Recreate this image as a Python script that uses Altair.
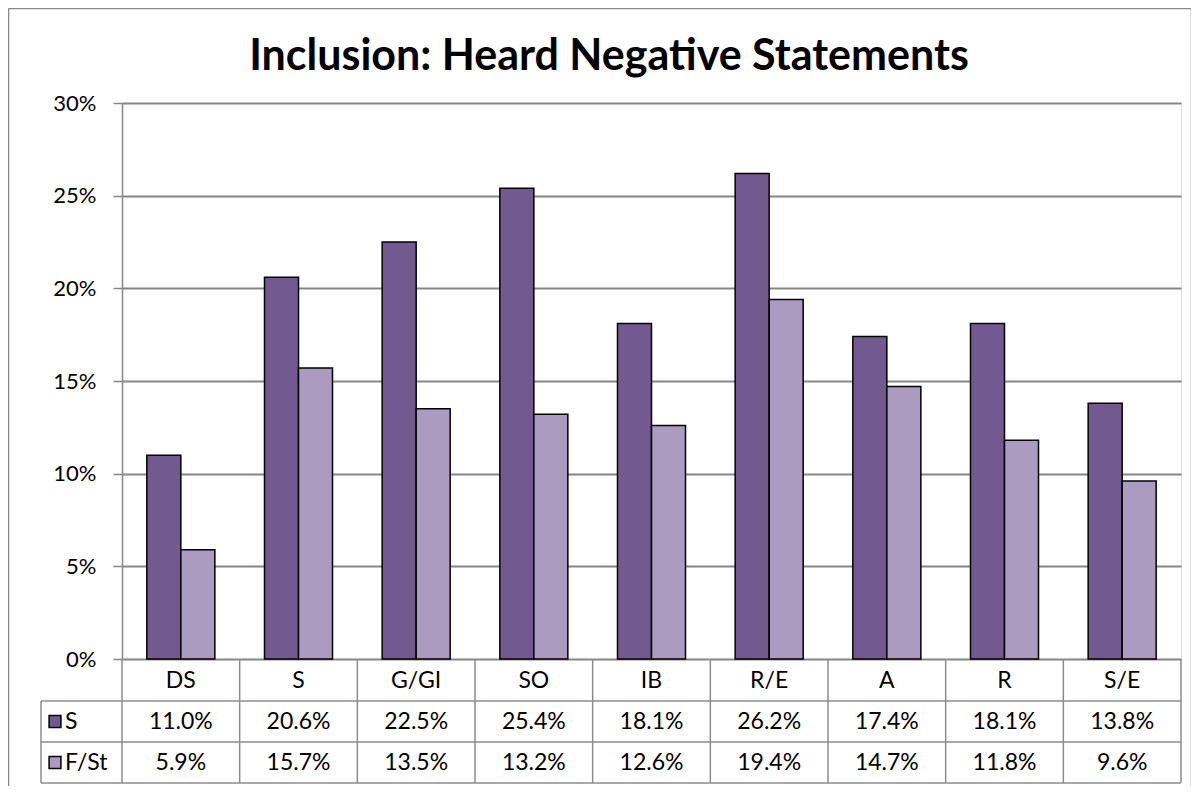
import altair as alt
import pandas as pd

categories = ["DS", "S", "G/GI", "SO", "IB", "R/E", "A", "R", "S/E"]
series_names = ["S", "F/St"]
s_values = [11.0, 20.6, 22.5, 25.4, 18.1, 26.2, 17.4, 18.1, 13.8]
fst_values = [5.9, 15.7, 13.5, 13.2, 12.6, 19.4, 14.7, 11.8, 9.6]
colors = ["#725a90", "#ab9bc1"]
title_text = "Inclusion: Heard Negative Statements"
y_ticks = [0, 0.05, 0.10, 0.15, 0.20, 0.25, 0.30]

FONT = "Lato"
W, H = 1059, 556
GRID = "#868686"
TBL = "#8c8c8c"
TS = 23

rows = []
for i, c in enumerate(categories):
    rows.append({"cat": c, "series": "S", "value": s_values[i] / 100, "label": f"{s_values[i]:.1f}%"})
    rows.append({"cat": c, "series": "F/St", "value": fst_values[i] / 100, "label": f"{fst_values[i]:.1f}%"})
df = pd.DataFrame(rows)
cat_df = pd.DataFrame({"cat": categories})
one = alt.Data(values=[{"k": 0}])

x_scale = alt.Scale(domain=categories, paddingInner=0, paddingOuter=0)
color_scale = alt.Scale(domain=series_names, range=colors)

bars = alt.Chart(df).mark_bar(stroke="black", strokeWidth=1.5).encode(
    x=alt.X("cat:N", scale=x_scale, axis=None),
    xOffset=alt.XOffset("series:N", scale=alt.Scale(domain=series_names, paddingInner=0, paddingOuter=0.73)),
    y=alt.Y("value:Q", scale=alt.Scale(domain=[0, 0.3], nice=False),
            axis=alt.Axis(values=y_ticks, format=".0%", title=None, labelFont=FONT,
                          labelFontSize=22, labelColor="black", labelPadding=17,
                          tickSize=9, tickColor=GRID, tickWidth=1.5,
                          domainColor=GRID, domainWidth=1.5,
                          grid=True, gridColor=GRID, gridWidth=2)),
    color=alt.Color("series:N", scale=color_scale, legend=None),
)

# Data table: header row of categories
header = alt.Chart(cat_df).mark_text(font=FONT, fontSize=TS, color="black", baseline="middle").encode(
    x=alt.X("cat:N", scale=x_scale, axis=None),
    y=alt.value(577.5),
    text="cat:N",
)

row_y = {"S": 618.5, "F/St": 659.5}
value_rows = []
swatches = []
for s in series_names:
    value_rows.append(
        alt.Chart(df).transform_filter(alt.datum.series == s)
        .mark_text(font=FONT, fontSize=TS, color="black", baseline="middle")
        .encode(x=alt.X("cat:N", scale=x_scale, axis=None), y=alt.value(row_y[s]), text="label:N")
    )
    sdf = pd.DataFrame({"series": [s]})
    swatches.append(
        alt.Chart(sdf).mark_square(size=140, stroke="black", strokeWidth=1.5, opacity=1)
        .encode(x=alt.value(-67), y=alt.value(row_y[s]),
                color=alt.Color("series:N", scale=color_scale, legend=None))
    )
    swatches.append(
        alt.Chart(sdf).mark_text(font=FONT, fontSize=TS, color="black", baseline="middle", align="left")
        .encode(x=alt.value(-57), y=alt.value(row_y[s]), text="series:N")
    )

# table grid lines
vlines_start = alt.Chart(cat_df).mark_rule(color=TBL, strokeWidth=1.5).encode(
    x=alt.X("cat:N", scale=x_scale, axis=None, bandPosition=0),
    y=alt.value(H), y2=alt.value(680),
)
vline_end = alt.Chart(one).mark_rule(color=TBL, strokeWidth=1.5).encode(
    x=alt.value(W), y=alt.value(H), y2=alt.value(680))
vline_leg = alt.Chart(one).mark_rule(color=TBL, strokeWidth=1.5).encode(
    x=alt.value(-81), y=alt.value(598), y2=alt.value(680))
hlines = [
    alt.Chart(one).mark_rule(color=TBL, strokeWidth=1.5).encode(
        x=alt.value(-81), x2=alt.value(W), y=alt.value(yy))
    for yy in (598, 639, 680)
]

title = alt.Chart(one).mark_text(font=FONT, fontSize=43, fontWeight="bold", color="black",
                                 baseline="alphabetic", align="center").encode(
    x=alt.value(487), y=alt.value(-33), text=alt.value(title_text))

border = [
    alt.Chart(one).mark_rule(color="#888888", strokeWidth=1.5).encode(
        x=alt.value(-113.5), y=alt.value(-94.5), y2=alt.value(690)),
    alt.Chart(one).mark_rule(color="#888888", strokeWidth=1.5).encode(
        x=alt.value(1069.5), y=alt.value(-94.5), y2=alt.value(690)),
    alt.Chart(one).mark_rule(color="#888888", strokeWidth=1.5).encode(
        x=alt.value(-113.5), x2=alt.value(1069.5), y=alt.value(-94.5)),
]

chart = alt.layer(
    bars, vlines_start, vline_end, vline_leg, *hlines, header, *value_rows, *swatches, title, *border
).properties(
    width=W, height=H,
    autosize=alt.AutoSizeParams(type="none"),
    padding={"left": 114, "top": 95, "right": 10, "bottom": 127},
).configure_view(fill="#d9d9d9", strokeWidth=0).configure(background="white")

chart.save("out.html", embed_options={"renderer": "svg", "actions": False})
